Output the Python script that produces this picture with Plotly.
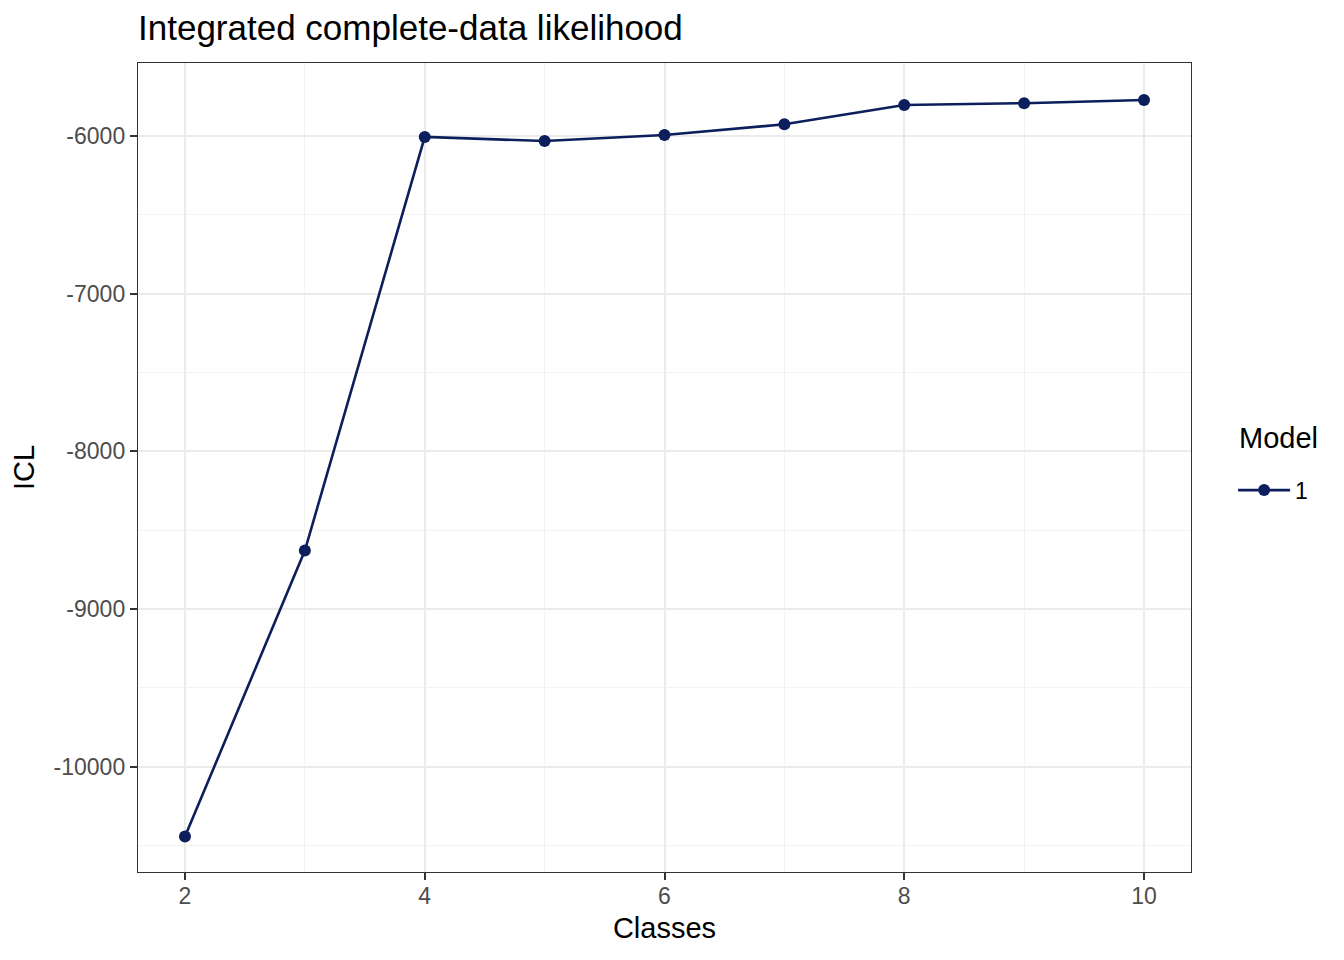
import plotly.graph_objects as go

# ICL by number of classes
classes = [2, 3, 4, 5, 6, 7, 8, 9, 10]
icl = [-10444, -8630, -6006, -6032, -5994, -5926, -5803, -5792, -5772]
model_name = "1"

# axis ticks (ggplot prints a plain hyphen, not a unicode minus)
x_ticks = [2, 4, 6, 8, 10]
y_ticks = [-10000, -9000, -8000, -7000, -6000]
y_tick_labels = ["-10000", "-9000", "-8000", "-7000", "-6000"]

LINE_COLOUR = "#0C1F5C"
GRID_MAJOR = "#EBEBEB"
GRID_MINOR = "#F3F3F3"
FONT = "Liberation Sans, Arial, sans-serif"

fig = go.Figure()

fig.add_trace(go.Scatter(
    x=classes,
    y=icl,
    mode="lines+markers",
    name=model_name,
    line=dict(color=LINE_COLOUR, width=2.6),
    marker=dict(color=LINE_COLOUR, size=12),
    showlegend=True,
))

# page body has an 8px margin, so the margins are trimmed by that much
fig.update_layout(
    width=1344,
    height=960,
    paper_bgcolor="white",
    plot_bgcolor="white",
    font=dict(family=FONT, size=23, color="black"),
    margin=dict(l=130, r=161, t=55, b=96, autoexpand=False),
    title=dict(
        text="Integrated complete-data likelihood",
        font=dict(family=FONT, size=35, color="black"),
        x=0, xref="paper", xanchor="left",
        y=1 - 20 / 960, yref="container", yanchor="middle",
    ),
    legend=dict(
        font=dict(size=23, color="black"),
        x=1.04, xanchor="left",
        y=0.472, yanchor="middle",
        bgcolor="rgba(0,0,0,0)",
        itemwidth=52,
    ),
    annotations=[dict(
        text="Model", font=dict(family=FONT, size=29, color="black"),
        x=1.0437, xref="paper", xanchor="left",
        y=0.5365, yref="paper", yanchor="middle",
        showarrow=False,
    )],
)

fig.update_xaxes(
    title=dict(text="Classes", font=dict(size=29, color="black"), standoff=9),
    range=[1.608, 10.392],
    tickmode="array", tickvals=x_ticks,
    ticks="outside", ticklen=7, tickwidth=2, tickcolor="#333333",
    ticklabelstandoff=-4,
    tickfont=dict(size=23, color="#4D4D4D"),
    showgrid=True, gridcolor=GRID_MAJOR, gridwidth=2.2,
    minor=dict(tick0=2, dtick=1, showgrid=True, gridcolor=GRID_MINOR, gridwidth=1.2, ticklen=0),
    showline=True, linecolor="#333333", linewidth=1.4, mirror=True,
    zeroline=False,
)

fig.update_yaxes(
    title=dict(text="ICL", font=dict(size=29, color="black"), standoff=10),
    range=[-10669, -5537],
    tickmode="array", tickvals=y_ticks, ticktext=y_tick_labels,
    ticks="outside", ticklen=7, tickwidth=2, tickcolor="#333333",
    tickfont=dict(size=23, color="#4D4D4D"),
    showgrid=True, gridcolor=GRID_MAJOR, gridwidth=2.2,
    minor=dict(tick0=-10000, dtick=500, showgrid=True, gridcolor=GRID_MINOR, gridwidth=1.2, ticklen=0),
    showline=True, linecolor="#333333", linewidth=1.4, mirror=True,
    zeroline=False,
)

fig.write_html("out.html")
